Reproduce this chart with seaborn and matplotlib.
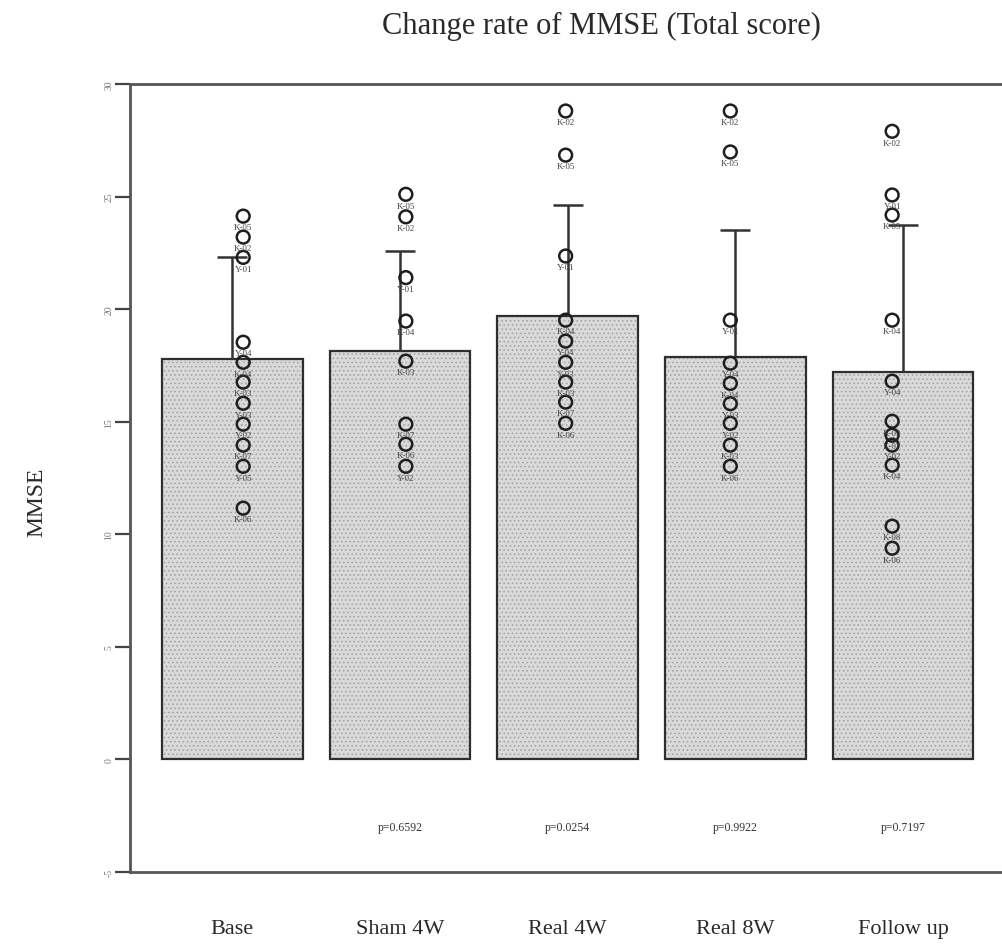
import numpy as np
import pandas as pd
import matplotlib
matplotlib.use("Agg")
import matplotlib.pyplot as plt
import seaborn as sns

# ---------------- data ----------------
groups = ["Base", "Sham 4W", "Real 4W", "Real 8W", "Follow up"]
means = [17.78, 18.13, 19.69, 17.87, 17.20]
sds = [4.52, 4.45, 4.93, 5.63, 6.53]
p_labels = ["", "p=0.6592", "p=0.0254", "p=0.9922", "p=0.7197"]

base_vals = [24.13, 23.2, 22.3, 18.53, 17.64, 16.76, 15.82, 14.89, 13.96, 13.02, 11.16]
base_ids = ["K-05", "K-02", "Y-01", "Y-04", "K-04", "K-03", "Y-03", "Y-02", "K-07", "Y-05", "K-06"]
sham_vals = [25.1, 24.1, 21.4, 19.47, 17.69, 14.89, 14.0, 13.02]
sham_ids = ["K-05", "K-02", "Y-01", "K-04", "K-03", "K-07", "K-06", "Y-02"]
real4_vals = [28.8, 26.84, 22.36, 19.51, 18.58, 17.64, 16.76, 15.87, 14.93]
real4_ids = ["K-02", "K-05", "Y-01", "K-04", "Y-04", "Y-03", "K-03", "K-07", "K-06"]
real8_vals = [28.8, 26.98, 19.51, 17.6, 16.7, 15.8, 14.93, 13.96, 13.02]
real8_ids = ["K-02", "K-05", "Y-01", "Y-04", "K-04", "Y-03", "Y-02", "K-03", "K-06"]
follow_vals = [27.9, 25.07, 24.18, 19.51, 16.8, 15.02, 14.4, 13.96, 13.07, 10.36, 9.38]
follow_ids = ["K-02", "Y-01", "K-05", "K-04", "Y-04", "K-03", "K-07", "Y-02", "K-04", "K-08", "K-06"]

point_vals = [base_vals, sham_vals, real4_vals, real8_vals, follow_vals]
point_ids = [base_ids, sham_ids, real4_ids, real8_ids, follow_ids]

# ---------------- style ----------------
point_shift = [0.065, 0.035, -0.012, -0.03, -0.065]   # horizontal layout offset of points
serif = ["Liberation Serif", "DejaVu Serif"]

sns.set_style("white")
plt.rcParams["font.family"] = serif
plt.rcParams["hatch.linewidth"] = 0.6

fig = plt.figure(figsize=(10.03, 9.45), dpi=100)
ax = fig.add_axes([130 / 1003, 1 - 873 / 945, 1 - 130 / 1003 + 0.004, (873 - 85) / 945])

df = pd.DataFrame({"group": groups, "mean": means})
# stippled fill
sns.barplot(data=df, x="group", y="mean", color="#d9d9d9", saturation=1,
            edgecolor="#a0a0a0", linewidth=0, width=0.84, errorbar=None,
            hatch="....", ax=ax, zorder=2)
# outline
sns.barplot(data=df, x="group", y="mean", fill=False,
            edgecolor="#2e2e2e", linewidth=1.6, width=0.84, errorbar=None,
            ax=ax, zorder=2.5)

eb = ax.errorbar(np.arange(len(groups)), means, yerr=[np.zeros(len(groups)), sds],
                 fmt="none", ecolor="#333333", elinewidth=1.8, capsize=11,
                 capthick=1.8, zorder=3)
for cl in eb[1]:
    if np.allclose(cl.get_ydata(), means):
        cl.set_visible(False)

rows = []
for i, (vals, ids) in enumerate(zip(point_vals, point_ids)):
    for v, lab in zip(vals, ids):
        rows.append({"x": i + point_shift[i], "y": v, "id": lab})
pts = pd.DataFrame(rows)
sns.scatterplot(data=pts, x="x", y="y", marker="o", s=85, facecolor="none",
                edgecolor="#1e1e1e", linewidth=1.8, ax=ax, zorder=4)
for _, r in pts.iterrows():
    ax.text(r["x"], r["y"] - 0.5, r["id"], ha="center", va="center",
            fontsize=6.5, color="#444444", zorder=5)

for i, p in enumerate(p_labels):
    if p:
        ax.text(i, -3.0, p, ha="center", va="center", fontsize=8.5, color="#333333")

ax.set_xlim(-0.61, 4.62)
ax.set_ylim(-5, 30)
ax.set_yticks(range(-5, 31, 5))
ax.set_yticklabels([str(t) for t in range(-5, 31, 5)], rotation=90,
                   fontsize=7, color="#777777", va="center")
ax.tick_params(axis="y", left=True, length=11, width=1.6, color="#444444",
               direction="out", pad=1)
ax.tick_params(axis="x", bottom=False, length=0, pad=34, labelsize=16,
               labelcolor="#2a2a2a")
ax.set_xlabel("")
ax.set_ylabel("MMSE", fontsize=17, color="#2a2a2a")
ax.yaxis.set_label_coords(-0.094, 0.47)

for side in ["left", "top", "bottom"]:
    ax.spines[side].set_visible(True)
    ax.spines[side].set_linewidth(2.0)
    ax.spines[side].set_color("#555555")
ax.spines["right"].set_visible(False)

fig.text(601 / 1003, 1 - 26 / 945, "Change rate of MMSE (Total score)",
         ha="center", va="center", fontsize=22, color="#2a2a2a")

fig.savefig("out.png", dpi=100, facecolor="white")
